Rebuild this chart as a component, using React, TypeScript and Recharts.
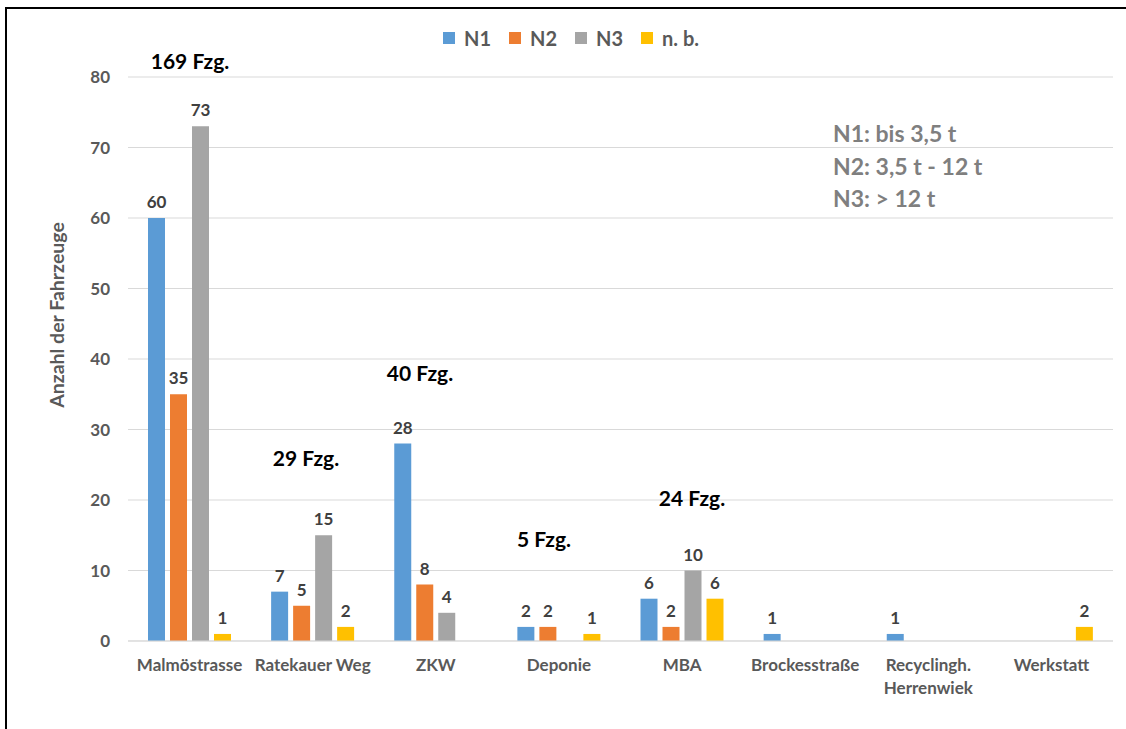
import { BarChart, Bar, XAxis, YAxis, CartesianGrid, LabelList } from 'recharts';

const categories = [
    'Malmöstrasse',
    'Ratekauer Weg',
    'ZKW',
    'Deponie',
    'MBA',
    'Brockesstraße',
    'Recyclingh.\nHerrenwiek',
    'Werkstatt',
];

const n1 = [60, 7, 28, 2, 6, 1, 1, 0];
const n2 = [35, 5, 8, 2, 2, 0, 0, 0];
const n3 = [73, 15, 4, 0, 10, 0, 0, 0];
const nb = [1, 2, 0, 1, 6, 0, 0, 2];

const yTicks = [0, 10, 20, 30, 40, 50, 60, 70, 80];

const weightClasses = ['N1: bis 3,5 t', 'N2: 3,5 t - 12 t', 'N3: > 12 t'];

const SERIES = [
    { key: 'n1', name: 'N1', color: '#5b9bd5' },
    { key: 'n2', name: 'N2', color: '#ed7d31' },
    { key: 'n3', name: 'N3', color: '#a5a5a5' },
    { key: 'nb', name: 'n. b.', color: '#ffc000' },
];

const FONT = 'Lato, "Open Sans", sans-serif';

const data = categories.map((name, i) => ({
    name,
    n1: n1[i],
    n2: n2[i],
    n3: n3[i],
    nb: nb[i],
}));

// total vehicles per site, shown as "xx Fzg." callouts
const totals = data.map(d => d.n1 + d.n2 + d.n3 + d.nb);

// where each callout box sits (index into categories)
const calloutPos = [
    { idx: 0, left: 190, top: 60 },
    { idx: 1, left: 306, top: 457 },
    { idx: 2, left: 420, top: 372 },
    { idx: 3, left: 544, top: 538 },
    { idx: 4, left: 692, top: 497 },
];

const CategoryTick = ({ x, y, payload }: any) => {
    const lines = String(payload.value).split('\n');
    return (
        <text x={x} y={y + 10} textAnchor="middle" fill="#595959" fontSize={17} fontWeight={700} fontFamily={FONT}>
            {lines.map((line, i) => (
                <tspan key={i} x={x} dy={i === 0 ? '0.68em' : 23}>{line}</tspan>
            ))}
        </text>
    );
};

const BarValue = ({ x, y, width, value }: any) => {
    if (!value) return null;
    return (
        <text x={x + width / 2} y={y - 10} textAnchor="middle" fill="#404040" fontSize={17} fontWeight={700} fontFamily={FONT}>
            {value}
        </text>
    );
};

export default function App() {
    return (
        <div style={{ position: 'absolute', left: 0, top: 0, width: 1126, height: 729, background: '#fff', fontFamily: FONT }}>
            {/* frame */}
            <div style={{ position: 'absolute', left: 5, top: 7, right: 0, bottom: 0, borderTop: '2px solid #000', borderLeft: '2px solid #000' }} />

            <BarChart
                width={1126}
                height={729}
                data={data}
                margin={{ top: 77, right: 13, bottom: 28, left: 68 }}
                barSize={17}
                barGap={5}
                style={{ position: 'absolute', left: 0, top: 0 }}
            >
                <CartesianGrid vertical={false} stroke="#d9d9d9" />
                <XAxis
                    dataKey="name"
                    height={60}
                    tickLine={false}
                    axisLine={{ stroke: '#d9d9d9' }}
                    tick={<CategoryTick />}
                    interval={0}
                />
                <YAxis
                    width={60}
                    domain={[0, 80]}
                    ticks={yTicks}
                    tickLine={false}
                    axisLine={false}
                    tickMargin={12}
                    tick={{ fill: '#595959', fontSize: 17, fontWeight: 700, fontFamily: FONT }}
                />
                {SERIES.map(s => (
                    <Bar key={s.key} dataKey={s.key} name={s.name} fill={s.color} isAnimationActive={false}>
                        <LabelList dataKey={s.key} content={<BarValue />} />
                    </Bar>
                ))}
            </BarChart>

            {/* legend */}
            <div style={{ position: 'absolute', left: 443, top: 25, display: 'flex', alignItems: 'center', height: 26 }}>
                {SERIES.map(s => (
                    <div key={s.key} style={{ display: 'flex', alignItems: 'center', marginRight: 18 }}>
                        <div style={{ width: 12, height: 12, background: s.color, marginRight: 9 }} />
                        <span style={{ fontSize: 20, fontWeight: 700, color: '#595959' }}>{s.name}</span>
                    </div>
                ))}
            </div>

            {/* y axis title */}
            <div
                style={{
                    position: 'absolute',
                    left: 56,
                    top: 315,
                    transform: 'translate(-50%, -50%) rotate(-90deg)',
                    whiteSpace: 'nowrap',
                    fontSize: 19.5,
                    fontWeight: 700,
                    color: '#595959',
                }}
            >
                Anzahl der Fahrzeuge
            </div>

            {/* totals per site */}
            {calloutPos.map(c => (
                <div
                    key={c.idx}
                    style={{
                        position: 'absolute',
                        left: c.left,
                        top: c.top,
                        transform: 'translate(-50%, -50%)',
                        whiteSpace: 'nowrap',
                        fontSize: 21,
                        fontWeight: 700,
                        color: '#000',
                    }}
                >
                    {totals[c.idx]} Fzg.
                </div>
            ))}

            {/* weight class note */}
            <div style={{ position: 'absolute', left: 833, top: 117, fontSize: 23, fontWeight: 700, color: '#7f7f7f', lineHeight: '32.5px' }}>
                {weightClasses.map(t => (
                    <div key={t}>{t}</div>
                ))}
            </div>
        </div>
    );
}
